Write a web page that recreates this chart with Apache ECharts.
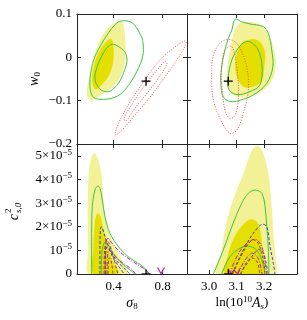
<!DOCTYPE html>
<html><head><meta charset="utf-8">
<script src="https://cdn.jsdelivr.net/npm/echarts@6/dist/echarts.min.js"></script>
<style>html,body{margin:0;padding:0;background:#fff}#c{width:307px;height:320px}</style>
</head><body><div id="c"></div>
<script>
// ---------------- data ----------------
const sigma8Ticks = [0.4, 0.8];
const lnAsTicks = [3.0, 3.1, 3.2];
const w0Ticks = [-0.2, -0.1, 0, 0.1];
const cs2Ticks = [0, 1, 2, 3, 4, 5];          // in units of 1e-5

const fidSigma8 = 0.665, fidLnAs = 3.070, fidW0 = -0.055, fidCs2 = 0;

// top-left: (sigma8, w0)
const tl_fill2 = [[0.464,0.083],[0.485,0.068],[0.495,0.035],[0.497,0.005],[0.485,-0.022],[0.444,-0.050],[0.386,-0.070],[0.305,-0.085],[0.239,-0.097],[0.201,-0.097],[0.182,-0.089],[0.186,-0.066],[0.217,-0.028],[0.250,0.011],[0.291,0.042],[0.345,0.065],[0.413,0.079]];
const tl_fill1 = [[0.386,0.042],[0.400,0.018],[0.395,-0.012],[0.359,-0.043],[0.305,-0.062],[0.264,-0.074],[0.237,-0.070],[0.223,-0.051],[0.237,-0.020],[0.278,0.011],[0.332,0.034],[0.364,0.042]];
const tl_green2 = [[0.462,0.084],[0.550,0.080],[0.618,0.053],[0.640,0.034],[0.638,0.003],[0.591,-0.032],[0.536,-0.059],[0.468,-0.082],[0.400,-0.093],[0.305,-0.097],[0.237,-0.093],[0.209,-0.074],[0.209,-0.043],[0.237,-0.005],[0.291,0.026],[0.359,0.057],[0.413,0.076]];
const tl_green1 = [[0.400,0.030],[0.454,0.022],[0.495,0.011],[0.509,-0.009],[0.482,-0.035],[0.441,-0.059],[0.372,-0.078],[0.318,-0.078],[0.278,-0.070],[0.250,-0.055],[0.250,-0.036],[0.278,-0.012],[0.318,0.011],[0.359,0.026]];
const tl_red2 = [[0.411,-0.175],[0.452,-0.145],[0.534,-0.103],[0.656,-0.052],[0.779,-0.006],[0.902,0.024],[0.984,0.038],[0.992,0.031],[0.926,-0.002],[0.820,-0.045],[0.697,-0.092],[0.575,-0.133],[0.468,-0.168],[0.419,-0.179]];
const tl_red1 = [[0.485,-0.140],[0.550,-0.108],[0.656,-0.064],[0.763,-0.027],[0.820,-0.009],[0.836,-0.015],[0.779,-0.043],[0.681,-0.080],[0.575,-0.117],[0.501,-0.147]];

// top-right: (ln(10^10 As), w0)
const tr_fill2 = [[3.119,0.081],[3.179,0.077],[3.216,0.054],[3.237,0.015],[3.243,-0.015],[3.234,-0.046],[3.210,-0.069],[3.173,-0.085],[3.131,-0.092],[3.095,-0.089],[3.070,-0.073],[3.064,-0.046],[3.070,-0.008],[3.083,0.038],[3.095,0.065]];
const tr_fill1 = [[3.131,0.038],[3.167,0.042],[3.192,0.031],[3.204,0.008],[3.201,-0.023],[3.192,-0.054],[3.161,-0.068],[3.131,-0.069],[3.107,-0.054],[3.095,-0.023],[3.101,0.008],[3.113,0.027]];
const tr_green2 = [[3.095,0.088],[3.119,0.082],[3.149,0.077],[3.197,0.071],[3.216,0.055],[3.228,0.017],[3.232,-0.022],[3.210,-0.060],[3.161,-0.087],[3.113,-0.099],[3.076,-0.102],[3.052,-0.091],[3.043,-0.060],[3.046,-0.022],[3.058,0.017],[3.070,0.044],[3.083,0.063]];
const tr_green1 = [[3.149,0.036],[3.179,0.017],[3.193,-0.022],[3.185,-0.064],[3.149,-0.079],[3.102,-0.086],[3.073,-0.075],[3.070,-0.045],[3.083,-0.006],[3.102,0.017],[3.124,0.033]];
const tr_red2 = [[3.046,0.036],[3.016,0.005],[3.010,-0.041],[3.016,-0.099],[3.046,-0.149],[3.076,-0.175],[3.101,-0.168],[3.125,-0.129],[3.143,-0.076],[3.137,-0.022],[3.113,0.021],[3.083,0.040]];
const tr_red1 = [[3.046,-0.060],[3.058,-0.122],[3.076,-0.141],[3.095,-0.133],[3.107,-0.091],[3.101,-0.022],[3.083,0.025],[3.058,0.017],[3.046,-0.022]];

// bottom-left: (sigma8, cs2 / 1e-5)
const bl_fill2 = [[0.198,0],[0.192,1.02],[0.188,2.43],[0.192,3.84],[0.206,4.69],[0.242,5.12],[0.274,4.82],[0.302,4.12],[0.315,3.13],[0.343,2.15],[0.384,1.44],[0.438,0.88],[0.476,0.47],[0.517,0]];
const bl_fill1 = [[0.233,0],[0.233,1.02],[0.242,2.00],[0.255,2.45],[0.272,2.57],[0.296,2.37],[0.321,1.78],[0.354,1.10],[0.395,0.51],[0.438,0]];
const bl_green2 = [[0.220,0],[0.220,1.72],[0.225,2.85],[0.247,3.55],[0.269,3.72],[0.288,3.63],[0.307,3.13],[0.329,2.42],[0.370,1.72],[0.438,1.16],[0.520,0.73],[0.602,0.45],[0.656,0.24],[0.683,0]];
const bl_green1 = [[0.302,0],[0.302,0.73],[0.315,1.23],[0.335,1.37],[0.356,1.23],[0.397,0.88],[0.466,0.45],[0.534,0.17],[0.575,0]];
const bl_blue2 = [[0.288,0],[0.288,1.23],[0.291,1.86],[0.300,2.00],[0.313,1.86],[0.337,1.44],[0.370,1.02],[0.427,0.55],[0.493,0.21],[0.534,0]];
const bl_blue1 = [[0.333,0],[0.333,0.80],[0.345,1.14],[0.362,1.06],[0.395,0.68],[0.452,0.25],[0.485,0]];
const bl_purple2 = [[0.329,0],[0.333,1.02],[0.341,1.44],[0.354,1.52],[0.378,1.35],[0.452,0.93],[0.550,0.55],[0.640,0.25],[0.697,0]];
const bl_purple1 = [[0.345,0],[0.350,0.80],[0.362,1.02],[0.386,0.89],[0.452,0.55],[0.534,0.25],[0.583,0]];
const bl_brown2 = [[0.321,0],[0.325,0.93],[0.341,1.40],[0.362,1.31],[0.395,0.76],[0.435,0]];
const bl_brown1 = [[0.354,0],[0.362,0.68],[0.378,0.59],[0.395,0]];
const bl_purpleBit = [[0.759,0.275],[0.771,0.17],[0.787,0.02],[0.804,0.17],[0.816,0.275]];

// bottom-right: (ln(10^10 As), cs2 / 1e-5)
const br_fill2 = [[3.029,0],[3.046,1.02],[3.058,1.86],[3.076,2.71],[3.101,3.55],[3.124,4.19],[3.142,4.82],[3.160,5.29],[3.179,5.42],[3.197,5.11],[3.216,4.26],[3.228,2.85],[3.234,1.72],[3.240,0.88],[3.240,0]];
const br_fill1 = [[3.058,0],[3.069,0.80],[3.087,1.44],[3.113,1.95],[3.149,2.31],[3.175,2.20],[3.189,1.65],[3.196,0.80],[3.200,0]];
const br_green2 = [[3.016,0],[3.052,1.02],[3.088,2.15],[3.119,2.99],[3.143,3.41],[3.167,3.55],[3.192,3.41],[3.204,2.85],[3.210,2.00],[3.216,1.02],[3.218,0]];
const br_green1 = [[3.046,0],[3.076,0.73],[3.113,1.09],[3.142,1.18],[3.173,1.02],[3.192,0.59],[3.204,0]];
const br_blue2 = [[3.083,0],[3.101,0.45],[3.125,1.02],[3.161,1.72],[3.192,2.10],[3.210,2.00],[3.222,1.16],[3.234,0.45],[3.240,0]];
const br_blue1 = [[3.113,0],[3.142,0.51],[3.178,1.02],[3.196,0.93],[3.207,0.51],[3.215,0]];
const br_purple2 = [[3.076,0],[3.095,0.59],[3.125,1.16],[3.167,1.47],[3.192,1.16],[3.204,0.45],[3.210,0]];
const br_purple1 = [[3.105,0],[3.127,0.51],[3.155,0.88],[3.178,0.68],[3.193,0]];
const br_brown2 = [[3.087,0],[3.113,0.68],[3.156,1.44],[3.178,1.31],[3.196,0.68],[3.204,0]];
const br_brown1 = [[3.116,0],[3.135,0.47],[3.156,0.68],[3.175,0.51],[3.185,0]];
const br_purpleBit = [[3.069,0.23],[3.080,0.02],[3.091,0.17],[3.102,0.02],[3.113,0.23]];

// ---------------- styles ----------------
const FONT = 'Liberation Serif';
const C_LIGHT = '#f3f195', C_DARK = '#e4df00', C_GREEN = '#3ec43e', C_RED = '#ff4d4d',
      C_BLUE = '#3a3ad8', C_PURPLE = '#b01cb0', C_BROWN = '#a04020', AX = '#262626';

function shape(grid, pts, o) {
  return {
    type: 'custom', coordinateSystem: 'cartesian2d', xAxisIndex: grid * 2, yAxisIndex: grid * 2,
    clip: true, silent: true, z: o.z || 3, data: pts,
    renderItem: function (params, api) {
      if (params.dataIndex !== 0) return null;
      const P = pts.map(function (p) { return api.coord(p); });
      const style = o.fill ? { fill: o.fill, stroke: null }
        : { fill: null, stroke: o.stroke, lineWidth: o.lw || 1, lineDash: o.dash || null };
      return { type: o.closed ? 'polygon' : 'polyline', shape: { points: P, smooth: o.smooth == null ? 0.35 : o.smooth }, style: style };
    }
  };
}
function cross(grid, x, y) {
  return {
    type: 'custom', coordinateSystem: 'cartesian2d', xAxisIndex: grid * 2, yAxisIndex: grid * 2,
    clip: true, silent: true, z: 6, data: [[x, y]],
    renderItem: function (params, api) {
      const c = api.coord([api.value(0), api.value(1)]);
      return { type: 'group', children: [
        { type: 'line', shape: { x1: c[0] - 4.5, y1: c[1], x2: c[0] + 4.5, y2: c[1] }, style: { stroke: '#000', lineWidth: 1.3 } },
        { type: 'line', shape: { x1: c[0], y1: c[1] - 4.5, x2: c[0], y2: c[1] + 4.5 }, style: { stroke: '#000', lineWidth: 1.3 } }
      ]};
    }
  };
}
function panel(grid, set) {
  return [
    shape(grid, set.f2, { fill: C_LIGHT, closed: true, z: 1 }),
    shape(grid, set.f1, { fill: C_DARK, closed: true, z: 2 })
  ];
}

const minus = function (s) { return s.replace('-', '\u2212'); };
const labelStyle = { color: '#000', fontFamily: FONT, fontSize: 13 };

function axisX(grid, pos, min, max, ticks, showLabel, name) {
  const a = {
    type: 'value', gridIndex: grid, position: pos, min: min, max: max,
    axisLine: { show: true, onZero: false, lineStyle: { color: AX, width: 1 } },
    axisTick: { show: true, inside: true, length: 4, customValues: ticks, lineStyle: { color: AX, width: 1 } },
    axisLabel: Object.assign({ show: showLabel, customValues: ticks, margin: 6,
      formatter: function (v) { return (+v).toFixed(1); } }, labelStyle),
    splitLine: { show: false }
  };
  if (name) {
    a.name = name; a.nameLocation = 'middle'; a.nameGap = 21;
    a.nameTextStyle = { fontFamily: FONT, fontSize: 13, color: '#000',
      rich: {
        i: { fontFamily: FONT, fontStyle: 'italic', fontSize: 14, color: '#000' },
        r: { fontFamily: FONT, fontSize: 13, color: '#000' },
        sub: { fontFamily: FONT, fontSize: 9, color: '#000', padding: [7, 0, 0, 0] },
        isub: { fontFamily: FONT, fontStyle: 'italic', fontSize: 9, color: '#000', padding: [7, 0, 0, 0] },
        sup: { fontFamily: FONT, fontSize: 9, color: '#000', padding: [0, 0, 7, 0] }
      } };
  }
  return a;
}
function axisY(grid, pos, min, max, ticks, showLabel, fmt) {
  return {
    type: 'value', gridIndex: grid, position: pos, min: min, max: max,
    axisLine: { show: true, onZero: false, lineStyle: { color: AX, width: 1 } },
    axisTick: { show: true, inside: true, length: 4, customValues: ticks, lineStyle: { color: AX, width: 1 } },
    axisLabel: Object.assign({ show: showLabel, customValues: ticks, margin: 5, formatter: fmt,
      rich: { sup: { fontFamily: FONT, fontSize: 9, color: '#000', padding: [0, 0, 7, 0] } } }, labelStyle),
    splitLine: { show: false }
  };
}
const fmtW0 = function (v) { v = +v; return Math.abs(v) < 1e-9 ? '0' : minus(v.toFixed(1)); };
const fmtCs = function (v) { v = Math.round(+v); return v === 0 ? '0' : (v === 1 ? '10{sup|\u22125}' : v + '\u00d710{sup|\u22125}'); };

const S8 = [0.1, 1.0], LA = [2.92, 3.32], W = [-0.2, 0.1], CS = [0, 5.5];

const xAxes = [
  axisX(0, 'bottom', S8[0], S8[1], sigma8Ticks, false), axisX(0, 'top', S8[0], S8[1], sigma8Ticks, false),
  axisX(1, 'bottom', LA[0], LA[1], lnAsTicks, false), axisX(1, 'top', LA[0], LA[1], lnAsTicks, false),
  axisX(2, 'bottom', S8[0], S8[1], sigma8Ticks, true, '{i|\u03c3}{sub|8}'), axisX(2, 'top', S8[0], S8[1], sigma8Ticks, false),
  axisX(3, 'bottom', LA[0], LA[1], lnAsTicks, true, '{r|ln(10}{sup|10}{i|A}{isub|s}{r|)}'), axisX(3, 'top', LA[0], LA[1], lnAsTicks, false)
];
const yW = axisY(0, 'left', W[0], W[1], w0Ticks, true, fmtW0);
yW.name = '{i|w}{sub|0}'; yW.nameLocation = 'middle'; yW.nameGap = 35; yW.nameRotate = 90;
yW.nameTextStyle = { fontFamily: FONT, fontSize: 13, color: '#000', rich: {
  i: { fontFamily: FONT, fontStyle: 'italic', fontSize: 14, color: '#000' },
  sub: { fontFamily: FONT, fontSize: 9, color: '#000', padding: [7, 0, 0, 0] } } };
const yAxes = [
  yW, axisY(0, 'right', W[0], W[1], w0Ticks, false, fmtW0),
  axisY(1, 'left', W[0], W[1], w0Ticks, false, fmtW0), axisY(1, 'right', W[0], W[1], w0Ticks, false, fmtW0),
  axisY(2, 'left', CS[0], CS[1], cs2Ticks, true, fmtCs), axisY(2, 'right', CS[0], CS[1], cs2Ticks, false, fmtCs),
  axisY(3, 'left', CS[0], CS[1], cs2Ticks, false, fmtCs), axisY(3, 'right', CS[0], CS[1], cs2Ticks, false, fmtCs)
];

const dotted = [1, 1.6], dashed = [3, 2], dashdot = [4, 1.5, 1, 1.5];
const series = [].concat(
  panel(0, { f2: tl_fill2, f1: tl_fill1 }),
  [shape(0, tl_green2, { stroke: C_GREEN, closed: true }), shape(0, tl_green1, { stroke: C_GREEN, closed: true }),
   shape(0, tl_red2, { stroke: C_RED, closed: true, dash: dotted }), shape(0, tl_red1, { stroke: C_RED, closed: true, dash: dotted }),
   cross(0, fidSigma8, fidW0)],
  panel(1, { f2: tr_fill2, f1: tr_fill1 }),
  [shape(1, tr_green2, { stroke: C_GREEN, closed: true }), shape(1, tr_green1, { stroke: C_GREEN, closed: true }),
   shape(1, tr_red2, { stroke: C_RED, closed: true, dash: dotted }), shape(1, tr_red1, { stroke: C_RED, closed: true, dash: dotted }),
   cross(1, fidLnAs, fidW0)],
  panel(2, { f2: bl_fill2, f1: bl_fill1 }),
  [shape(2, bl_green2, { stroke: C_GREEN }), shape(2, bl_green1, { stroke: C_GREEN }),
   shape(2, bl_blue2, { stroke: C_BLUE, dash: dashed }), shape(2, bl_blue1, { stroke: C_BLUE, dash: dashed }),
   shape(2, bl_purple2, { stroke: C_PURPLE, dash: dashdot }), shape(2, bl_purple1, { stroke: C_PURPLE, dash: dashdot }),
   shape(2, bl_brown2, { stroke: C_BROWN, dash: dashed }), shape(2, bl_brown1, { stroke: C_BROWN, dash: dashed }),
   shape(2, bl_purpleBit, { stroke: C_PURPLE, lw: 1.2, smooth: 0.2 }),
   cross(2, fidSigma8, fidCs2)],
  panel(3, { f2: br_fill2, f1: br_fill1 }),
  [shape(3, br_green2, { stroke: C_GREEN }), shape(3, br_green1, { stroke: C_GREEN }),
   shape(3, br_blue2, { stroke: C_BLUE, dash: dashed }), shape(3, br_blue1, { stroke: C_BLUE, dash: dashed }),
   shape(3, br_purple2, { stroke: C_PURPLE, dash: dashdot }), shape(3, br_purple1, { stroke: C_PURPLE, dash: dashdot }),
   shape(3, br_brown2, { stroke: C_BROWN, dash: dashed }), shape(3, br_brown1, { stroke: C_BROWN, dash: dashed }),
   shape(3, br_purpleBit, { stroke: C_PURPLE, lw: 1.2, smooth: 0.2 }),
   cross(3, fidLnAs, fidCs2)]
);

const chart = echarts.init(document.getElementById('c'), null, { renderer: 'canvas' });
chart.setOption({
  animation: false,
  backgroundColor: '#fff',
  grid: [
    { left: 77, top: 14, width: 110, height: 130 },
    { left: 187, top: 14, width: 110, height: 130 },
    { left: 77, top: 144, width: 110, height: 130 },
    { left: 187, top: 144, width: 110, height: 130 }
  ],
  xAxis: xAxes,
  yAxis: yAxes,
  graphic: [{
    type: 'group', x: 14, y: 212, rotation: Math.PI / 2, silent: true,
    children: [
      { type: 'text', x: -2, y: 0, style: { text: 'c', fill: '#000', font: 'italic 14px "Liberation Serif"', align: 'right', verticalAlign: 'middle' } },
      { type: 'text', x: -1, y: -5, style: { text: '2', fill: '#000', font: '9px "Liberation Serif"', align: 'left', verticalAlign: 'middle' } },
      { type: 'text', x: -1, y: 5, style: { text: 's,0', fill: '#000', font: 'italic 9px "Liberation Serif"', align: 'left', verticalAlign: 'middle' } }
    ]
  }],
  series: series
});
</script>
</body></html>
